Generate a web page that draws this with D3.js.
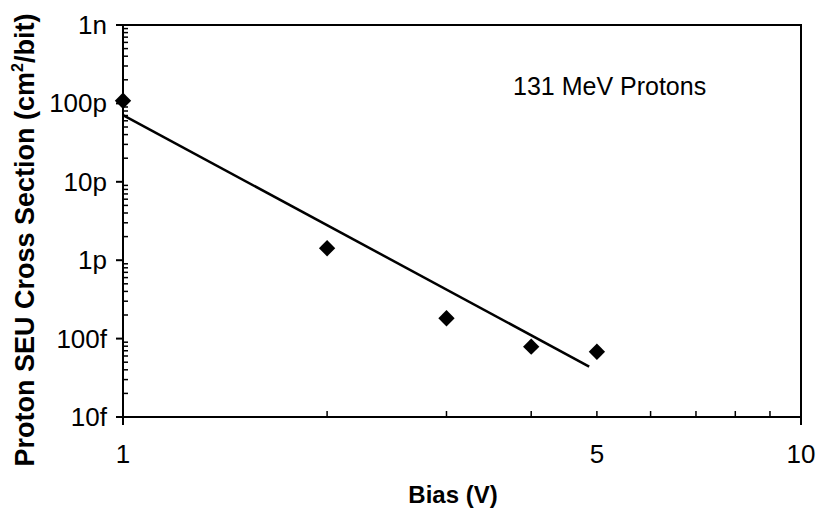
<!DOCTYPE html>
<html>
<head>
<meta charset="utf-8">
<script src="https://cdn.jsdelivr.net/npm/d3@7"></script>
<style>
  html, body { margin: 0; padding: 0; background: #fff; }
  svg { display: block; font-family: "Liberation Sans", Arial, sans-serif; }
</style>
</head>
<body>
<svg id="chart" width="818" height="512"></svg>
<script>
// ---- data ----
const biasV = [1, 2, 3, 4, 5];
const crossSection = [1.08e-10, 1.42e-12, 1.82e-13, 7.9e-14, 6.8e-14];
const fitX = [1, 4.87];
const fitY = [7.1e-11, 4.4e-14];
const yTickValues = [1e-14, 1e-13, 1e-12, 1e-11, 1e-10, 1e-9];
const yTickLabels = ["10f", "100f", "1p", "10p", "100p", "1n"];
const xTickValues = [1, 5, 10];
const xTickLabels = ["1", "5", "10"];
const annotation = "131 MeV Protons";

// ---- layout ----
const svg = d3.select("#chart");
const L = 123, R = 801, T = 25, B = 417;
const x = d3.scaleLog().domain([1, 10]).range([L, R]);
const y = d3.scaleLog().domain([1e-14, 1e-9]).range([B, T]);

// frame
svg.append("rect").attr("x", L).attr("y", T).attr("width", R - L).attr("height", B - T)
  .attr("fill", "none").attr("stroke", "#000").attr("stroke-width", 2);

// y minor ticks (inside)
const yMinor = [];
for (let e = -14; e < -9; e++) for (let m = 2; m <= 9; m++) yMinor.push(m * Math.pow(10, e));
svg.append("g").selectAll("line").data(yMinor).join("line")
  .attr("x1", L).attr("x2", L + 5)
  .attr("y1", d => y(d)).attr("y2", d => y(d))
  .attr("stroke", "#000").attr("stroke-width", 1.5);

// y major ticks (outside)
svg.append("g").selectAll("line").data(yTickValues).join("line")
  .attr("x1", L - 7).attr("x2", L)
  .attr("y1", d => y(d)).attr("y2", d => y(d))
  .attr("stroke", "#000").attr("stroke-width", 2);

svg.append("g").selectAll("text").data(yTickValues).join("text")
  .attr("x", 107).attr("y", d => y(d) + 9)
  .attr("text-anchor", "end").attr("font-size", 26)
  .text((d, i) => yTickLabels[i]);

// x minor ticks (inside)
const xMinor = [2, 3, 4, 5, 6, 7, 8, 9];
svg.append("g").selectAll("line").data(xMinor).join("line")
  .attr("x1", d => x(d)).attr("x2", d => x(d))
  .attr("y1", B - 6).attr("y2", B)
  .attr("stroke", "#000").attr("stroke-width", 1.5);

// x major ticks (outside)
svg.append("g").selectAll("line").data([1, 10]).join("line")
  .attr("x1", d => x(d)).attr("x2", d => x(d))
  .attr("y1", B).attr("y2", B + 8)
  .attr("stroke", "#000").attr("stroke-width", 2);

svg.append("g").selectAll("text").data(xTickValues).join("text")
  .attr("x", d => x(d)).attr("y", 463)
  .attr("text-anchor", "middle").attr("font-size", 26)
  .text((d, i) => xTickLabels[i]);

// fit line
svg.append("path")
  .datum(fitX.map((v, i) => [v, fitY[i]]))
  .attr("d", d3.line().x(d => x(d[0])).y(d => y(d[1])))
  .attr("fill", "none").attr("stroke", "#000").attr("stroke-width", 2.5);

// data points (diamonds)
const diamond = d3.symbol().type(d3.symbolDiamond2).size(170);
svg.append("g").selectAll("path").data(biasV).join("path")
  .attr("transform", (d, i) => `translate(${x(d)},${y(crossSection[i])})`)
  .attr("d", diamond).attr("fill", "#000");

// annotation
svg.append("text").attr("x", 513).attr("y", 95).attr("font-size", 25).text(annotation);

// axis titles
svg.append("text").attr("x", 453).attr("y", 503)
  .attr("text-anchor", "middle").attr("font-size", 24).attr("font-weight", "bold")
  .text("Bias (V)");

const yl = svg.append("text")
  .attr("transform", "translate(34,240) rotate(-90)")
  .attr("text-anchor", "middle").attr("font-size", 27).attr("font-weight", "bold");
yl.append("tspan").text("Proton SEU Cross Section (cm");
yl.append("tspan").attr("font-size", 16).attr("dy", -11).text("2");
yl.append("tspan").attr("dy", 11).text("/bit)");
</script>
</body>
</html>
